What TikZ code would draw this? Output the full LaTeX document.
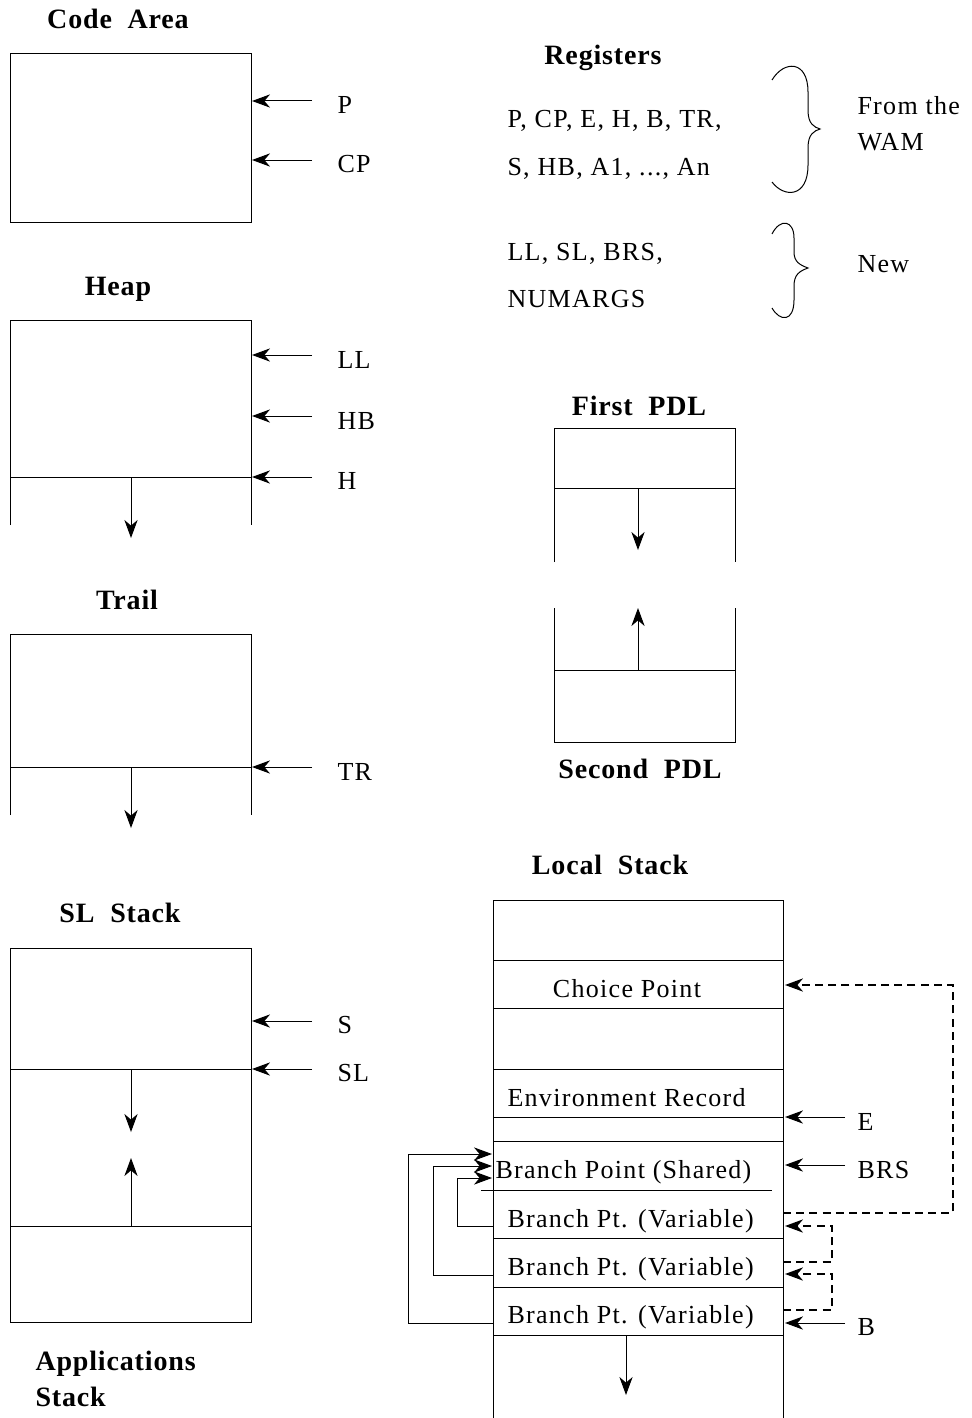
\documentclass[tikz,border=0pt]{standalone}
\usepackage{fontspec}
\setmainfont{Liberation Serif}[LetterSpace=5]
\usetikzlibrary{arrows.meta}
\begin{document}
\begin{tikzpicture}[x=0.5pt,y=-0.5pt,
  line width=0.5pt,
  ptr/.style={-{Stealth[length=9pt,width=6.6pt,inset=2.8pt]}},
  dptr/.style={ptr,line width=0.8pt,dash pattern=on 4pt off 2.6pt},
  ttl/.style={font=\fontsize{14}{16}\selectfont\bfseries\addfontfeatures{LetterSpace=3},inner sep=0pt,anchor=base},
  lbl/.style={font=\fontsize{13}{15}\selectfont,inner sep=0pt,anchor=base west},
  cell/.style={font=\fontsize{13}{15}\selectfont,inner sep=0pt,anchor=base west}]
\useasboundingbox (0,0) rectangle (971,1418);

% ---------- Code Area ----------
\node[ttl] (tCode) at (118,29) {Code\ \ Area};
\draw (10,54) rectangle (251,222);
\node[lbl] (lP) at (337,113) {P};
\node[lbl] (lCP) at (337,172) {CP};
\coordinate (aP) at (252,101); \coordinate (aCP) at (252,160);
\draw[ptr] (312,101) -- (aP);
\draw[ptr] (312,160) -- (aCP);

% ---------- Heap ----------
\node[ttl] (tHeap) at (118,295) {Heap};
\draw (10,525) -- (10,320) -- (251,320) -- (251,525);
\draw (10,477) -- (251,477);
\coordinate (hTop) at (131,477); \coordinate (hEnd) at (131,538);
\draw[ptr] (hTop) -- (hEnd);
\node[lbl] (lLL) at (337,368) {LL};
\node[lbl] (lHB) at (337,429) {HB};
\node[lbl] (lH) at (337,489) {H};
\draw[ptr] (312,355) -- (252,355);
\draw[ptr] (312,416) -- (252,416);
\draw[ptr] (312,477) -- (252,477);

% ---------- Trail ----------
\node[ttl] (tTrail) at (127,609) {Trail};
\draw (10,815) -- (10,634) -- (251,634) -- (251,815);
\draw (10,767) -- (251,767);
\coordinate (trTop) at (131,767); \coordinate (trEnd) at (131,828);
\draw[ptr] (trTop) -- (trEnd);
\node[lbl] (lTR) at (337,780) {TR};
\draw[ptr] (312,767) -- (252,767);

% ---------- SL Stack ----------
\node[ttl] (tSL) at (120,922) {SL\ \ Stack};
\draw (10,948) rectangle (251,1322);
\draw (10,1069) -- (251,1069);
\draw (10,1226) -- (251,1226);
\coordinate (slA) at (131,1069); \coordinate (slB) at (131,1132);
\coordinate (slC) at (131,1226); \coordinate (slD) at (131,1158);
\draw[ptr] (slA) -- (slB);
\draw[ptr] (slC) -- (slD);
\node[lbl] (lS) at (337,1033) {S};
\node[lbl] (lSL) at (337,1081) {SL};
\draw[ptr] (312,1021) -- (252,1021);
\draw[ptr] (312,1069) -- (252,1069);
\node[ttl,anchor=base west] (tApp1) at (35,1370) {Applications};
\node[ttl,anchor=base west] (tApp2) at (35,1406) {Stack};

% ---------- Registers ----------
\node[ttl] (tReg) at (603,65) {Registers};
\node[lbl] (r1) at (507,127) {P, CP, E, H, B, TR,};
\node[lbl] (r2) at (507,175) {S, HB, A1, ..., An};
\node[lbl] (r3) at (507,260) {LL, SL, BRS,};
\node[lbl] (r4) at (507,307) {NUMARGS};
\node[lbl] (wam1) at (857,115) {From the};
\node[lbl] (wam2) at (857,150) {WAM};
\node[lbl] (new) at (857,272) {New};
% big brace
\draw (772,80) .. controls (784,60) and (808,60) .. (808,92)
  -- (808,110) .. controls (808,124) and (814,127) .. (820,129)
  .. controls (814,131) and (808,134) .. (808,148)
  -- (808,165) .. controls (808,198) and (784,198) .. (772,182);
% small brace
\draw (772,234) .. controls (780,218) and (794,220) .. (794,238)
  -- (794,252) .. controls (794,262) and (800,265) .. (808,268)
  .. controls (800,271) and (794,274) .. (794,286)
  -- (794,300) .. controls (794,322) and (780,322) .. (772,308);

% ---------- PDLs ----------
\node[ttl] (tPDL1) at (639,415) {First\ \ PDL};
\draw (554,562) -- (554,428) -- (735,428) -- (735,562);
\draw (554,488) -- (735,488);
\coordinate (p1a) at (638,488); \coordinate (p1b) at (638,550);
\draw[ptr] (p1a) -- (p1b);
\draw (554,608) -- (554,742) -- (735,742) -- (735,608);
\draw (554,670) -- (735,670);
\coordinate (p2a) at (638,670); \coordinate (p2b) at (638,608);
\draw[ptr] (p2a) -- (p2b);
\node[ttl] (tPDL2) at (640,778) {Second\ \ PDL};

% ---------- Local Stack ----------
\node[ttl] (tLocal) at (610,874) {Local\ \ Stack};
\draw (493,1418) -- (493,900) -- (783,900) -- (783,1418);
\foreach \yy in {960,1008,1069,1117,1141,1238,1287,1335}
  \draw (493,\yy) -- (783,\yy);
\draw (481,1190) -- (772,1190);
\coordinate (lsA) at (626,1335); \coordinate (lsB) at (626,1395);
\draw[ptr] (lsA) -- (lsB);
\node[cell,anchor=base] (cp) at (627,997) {Choice Point};
\node[cell] (env) at (507,1106) {Environment Record};
\node[cell] (bs) at (495,1178) {Branch Point (Shared)};
\node[cell] (bv1) at (507,1227) {Branch Pt. (Variable)};
\node[cell] (bv2) at (507,1275) {Branch Pt. (Variable)};
\node[cell] (bv3) at (507,1323) {Branch Pt. (Variable)};
% register pointers
\node[lbl] (lE) at (857,1130) {E};
\node[lbl] (lBRS) at (857,1178) {BRS};
\node[lbl] (lB) at (857,1335) {B};
\draw[ptr] (845,1117) -- (785,1117);
\draw[ptr] (845,1165) -- (785,1165);
\draw[ptr] (845,1323) -- (785,1323);
% dashed links
\draw[dptr] (783,1213) -- (953,1213) -- (953,985) -- (785,985);
\draw[dptr] (783,1262) -- (832,1262) -- (832,1226) -- (785,1226);
\draw[dptr] (783,1310) -- (832,1310) -- (832,1274) -- (785,1274);
% solid links to shared branch point
\draw[ptr] (493,1226) -- (457,1226) -- (457,1178) -- (492,1178);
\draw[ptr] (493,1275) -- (433,1275) -- (433,1166) -- (492,1166);
\draw[ptr] (493,1323) -- (408,1323) -- (408,1154) -- (492,1154);
\end{tikzpicture}
\end{document}
